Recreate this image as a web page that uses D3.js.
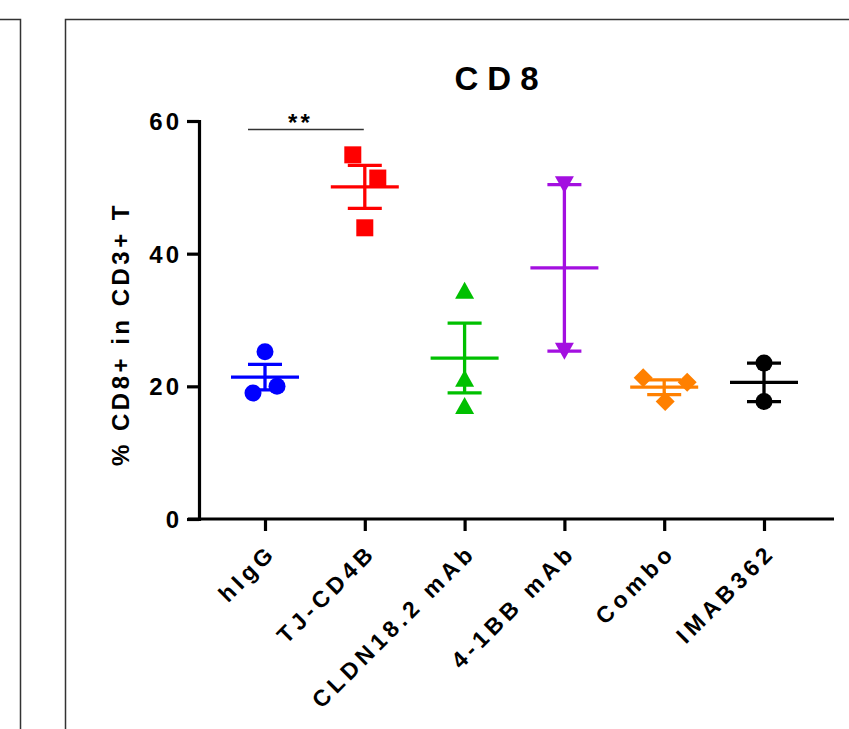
<!DOCTYPE html>
<html>
<head>
<meta charset="utf-8">
<script src="https://cdn.jsdelivr.net/npm/d3@7"></script>
<style>
  body { margin: 0; background: #fff; }
  text { font-family: 'Liberation Sans', Arial, sans-serif; font-weight: bold; fill: #000; }
</style>
</head>
<body>
<svg id="chart"></svg>
<script>
// data (% CD8+ in CD3+ T)
const categories = ['hIgG', 'TJ-CD4B', 'CLDN18.2 mAb', '4-1BB mAb', 'Combo', 'IMAB362']
const hIgG = [25.2, 19.0, 20.0]
const tjCd4b = [54.9, 51.4, 43.9]
const cldn = [34.5, 21.2, 17.1]
const bb41 = [50.4, 25.3]
const combo = [21.3, 20.6, 17.7]
const imab = [23.5, 17.7]
const yTicks = [0, 20, 40, 60]
const colors = ['#0000ff', '#ff0000', '#00c000', '#a30fe0', '#ff8000', '#000000']
const shapes = ['circle', 'square', 'triangle', 'triangleDown', 'diamond', 'circle']
// horizontal scatter of the dots (px), like prism does it
const jitter = [[0, -12, 12], [-12, 13, 0], [0, 0, 0], [0, 0], [-21, 23, 1], [0, 0]]

const groups = [hIgG, tjCd4b, cldn, bb41, combo, imab].map((vals, i) => ({
    name: categories[i],
    values: vals,
    mean: d3.mean(vals),
    sem: d3.deviation(vals) / Math.sqrt(vals.length),
    color: colors[i],
    shape: shapes[i],
    jitter: jitter[i]
}))

const W = 849, H = 729
const svg = d3.select('#chart').attr('width', W).attr('height', H)

// panel frames
svg.append('path')
    .attr('d', 'M0,19.5H20.5V729')
    .attr('fill', 'none').attr('stroke', '#333').attr('stroke-width', 1.5)
svg.append('path')
    .attr('d', `M65.5,729V19.5H${W}`)
    .attr('fill', 'none').attr('stroke', '#333').attr('stroke-width', 1.5)

const x = d3.scalePoint().domain(categories).range([265, 764])
const y = d3.scaleLinear().domain([0, 60]).range([519, 121])
const axisX0 = 199

// y axis
const yAxisG = svg.append('g')
    .attr('transform', `translate(${axisX0},0)`)
    .call(d3.axisLeft(y).tickValues(yTicks).tickSize(12).tickSizeOuter(0).tickPadding(8))
yAxisG.select('.domain').attr('stroke-width', 3.2).attr('stroke-linecap', 'square')
yAxisG.selectAll('.tick line').attr('stroke-width', 3.2)
yAxisG.selectAll('.tick text')
    .style('font-size', '24px').style('letter-spacing', '3px')
    .attr('dx', 3).attr('dy', '0.36em')

// x axis
const xAxisG = svg.append('g')
    .attr('transform', `translate(0,${y(0)})`)
    .call(d3.axisBottom(x).tickSize(12).tickSizeOuter(0))
xAxisG.select('.domain').remove()
xAxisG.append('line')
    .attr('x1', axisX0 - 11).attr('x2', 834)
    .attr('stroke', '#000').attr('stroke-width', 3.2)
xAxisG.selectAll('.tick line').attr('stroke-width', 3.2)
xAxisG.selectAll('.tick text')
    .style('font-size', '23px').style('letter-spacing', '4.5px')
    .attr('text-anchor', 'end')
    .attr('x', 0).attr('y', 0).attr('dy', 0).attr('dx', 4.5)
    .attr('transform', 'translate(9,38) rotate(-45)')

// titles
svg.append('text')
    .attr('x', 497 + 4).attr('y', 90)
    .attr('text-anchor', 'middle')
    .style('font-size', '33px').style('letter-spacing', '9px')
    .text('CD8')

svg.append('text')
    .attr('transform', `translate(129,${(y(0) + y(60)) / 2 + 14}) rotate(-90)`)
    .attr('text-anchor', 'middle')
    .style('font-size', '24px').style('letter-spacing', '3.5px')
    .text('% CD8+ in CD3+ T')

// markers
function symbolPath(shape) {
    if (shape === 'circle') return d3.symbol(d3.symbolCircle, 227)()
    if (shape === 'square') return d3.symbol(d3.symbolSquare, 289)()
    if (shape === 'diamond') return 'M0,-9.5L9.5,0L0,9.5L-9.5,0Z'
    if (shape === 'triangle') return 'M0,-8.5L9.5,8.5L-9.5,8.5Z'
    if (shape === 'triangleDown') return 'M0,8.5L9.5,-8.5L-9.5,-8.5Z'
}

const g = svg.selectAll('.group')
    .data(groups)
    .join('g')
    .attr('class', 'group')
    .attr('transform', d => `translate(${x(d.name)},0)`)

g.selectAll('path.pt')
    .data(d => d.values.map((v, i) => ({v, dx: d.jitter[i], shape: d.shape, color: d.color})))
    .join('path')
    .attr('class', 'pt')
    .attr('transform', d => `translate(${d.dx},${y(d.v)})`)
    .attr('d', d => symbolPath(d.shape))
    .attr('fill', d => d.color)

// mean + sem bars
const meanHalf = 34, capHalf = 17
g.append('line')
    .attr('x1', -meanHalf).attr('x2', meanHalf)
    .attr('y1', d => y(d.mean)).attr('y2', d => y(d.mean))
    .attr('stroke', d => d.color).attr('stroke-width', 3.3)
g.append('line')
    .attr('x1', 0).attr('x2', 0)
    .attr('y1', d => y(d.mean + d.sem)).attr('y2', d => y(d.mean - d.sem))
    .attr('stroke', d => d.color).attr('stroke-width', 3.3)
g.selectAll('line.cap')
    .data(d => [d.mean + d.sem, d.mean - d.sem].map(v => ({v, color: d.color})))
    .join('line')
    .attr('class', 'cap')
    .attr('x1', -capHalf).attr('x2', capHalf)
    .attr('y1', d => y(d.v)).attr('y2', d => y(d.v))
    .attr('stroke', d => d.color).attr('stroke-width', 3.3)

// significance bracket
svg.append('line')
    .attr('x1', x('hIgG') - 17).attr('x2', x('TJ-CD4B') - 1)
    .attr('y1', 129.5).attr('y2', 129.5)
    .attr('stroke', '#333').attr('stroke-width', 1.5)
svg.append('text')
    .attr('x', (x('hIgG') - 17 + x('TJ-CD4B')) / 2 - 6).attr('y', 131)
    .attr('text-anchor', 'middle')
    .style('font-size', '24px').style('letter-spacing', '3px')
    .attr('fill', '#222')
    .text('**')
</script>
</body>
</html>
